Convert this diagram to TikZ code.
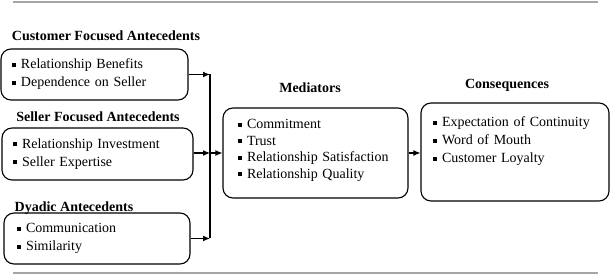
\documentclass[tikz,border=0pt]{standalone}
\usepackage{fontspec}
\setmainfont{Liberation Serif}
\usetikzlibrary{arrows.meta}
\newcommand{\sqitem}{\raisebox{0.3ex}{\rule{4pt}{4pt}}\hspace{5pt}}

\tikzset{
groupbox/.style={draw=black, line width=1.1pt, rounded corners=10pt, align=left,
  inner ysep=0pt, font=\fontsize{14}{18}\selectfont},
grouptitle/.style={inner sep=0pt, font=\fontsize{14}{17}\selectfont\bfseries},
flowarrow/.style={line width=1.1pt, -{Latex[length=7pt,width=6pt]}}
}

\begin{document}
\begin{tikzpicture}[x=1pt,y=-1pt]
\useasboundingbox (0,0) rectangle (610,280);

% ================= RULES =================
\draw[gray!70, line width=1.5pt] (13,2) -- (598,2);
\draw[gray!70, line width=1.5pt] (13,273) -- (598,273);

% ================= ANTECEDENTS =================
\node[grouptitle] (custtitle) at (106,36) {Customer Focused Antecedents};
\node[groupbox, text width=165pt, inner xsep=11pt, minimum height=51pt] (cust) at (94.5,74.5)
{\sqitem Relationship Benefits\\
\sqitem Dependence on Seller};

\node[grouptitle] (sellertitle) at (98,117) {Seller Focused Antecedents};
\node[groupbox, text width=169pt, inner xsep=11pt, minimum height=52pt] (seller) at (97.5,154)
{\sqitem Relationship Investment\\
\sqitem Seller Expertise};

\node[grouptitle] (dyadtitle) at (74,208) {Dyadic Antecedents};
\node[groupbox, text width=160pt, inner xsep=13pt, minimum height=51pt] (dyad) at (97,238.5)
{\sqitem Communication\\
\sqitem Similarity};

% ================= MEDIATORS =================
\node[grouptitle] (medtitle) at (310,88) {Mediators};
\node[groupbox, text width=155pt, inner xsep=15pt, minimum height=90pt,
  font=\fontsize{14}{16.5}\selectfont] (med) at (315.5,153)
{\sqitem Commitment\\
\sqitem Trust\\
\sqitem Relationship Satisfaction\\
\sqitem Relationship Quality\\[-8.5pt]
\mbox{}};

% ================= CONSEQUENCES =================
\node[grouptitle] (constitle) at (507,85) {Consequences};
\node[groupbox, text width=164pt, inner xsep=12pt, minimum height=98pt] (cons) at (515,152)
{\sqitem Expectation of Continuity\\
\sqitem Word of Mouth\\
\sqitem Customer Loyalty\\[6pt]
\mbox{}};

% ================= CONNECTORS =================
\coordinate (jtop) at (210,74.5);
\coordinate (jmid) at (210,153);
\coordinate (jbot) at (dyad.east -| jtop);
\draw[line width=1.1pt] (jtop) -- (jbot);
\draw[flowarrow] (cust.east) -- (jtop);
\draw[flowarrow] (seller.east |- jmid) -- (jmid);
\draw[flowarrow] (dyad.east) -- (jbot);
\draw[flowarrow] (jmid) -- (med.west);
\draw[flowarrow] (med.east) -- (med.east -| cons.west);

\end{tikzpicture}
\end{document}
